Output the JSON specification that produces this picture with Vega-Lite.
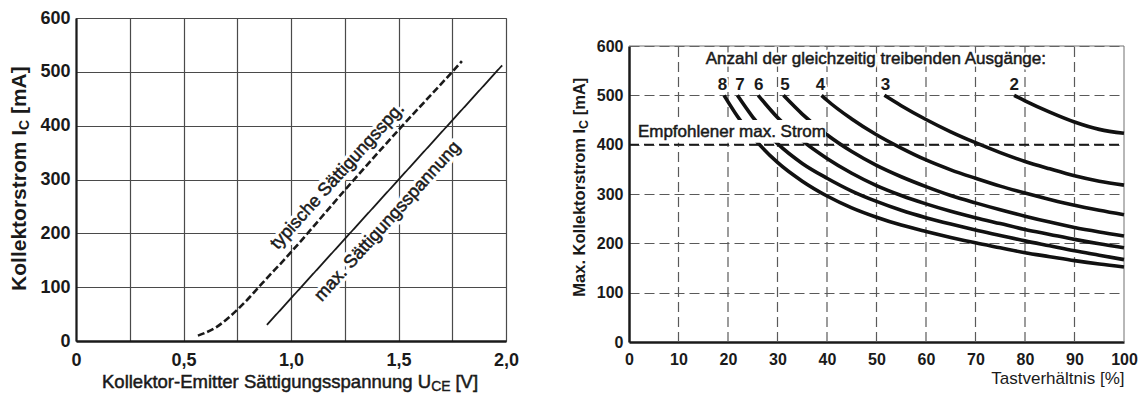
{
  "$schema": "https://vega.github.io/schema/vega-lite/v6.json",
  "padding": {"left": 8, "top": 8, "right": 2, "bottom": 2},
  "background": "white",
  "config": {
    "font": "Liberation Sans",
    "view": {"stroke": "#707070", "strokeWidth": 1},
    "axis": {"ticks": false, "domainColor": "#1a1a1a", "labelColor": "#1a1a1a", "labelFontWeight": "bold", "titleColor": "#1a1a1a", "labelFlush": false, "labelOverlap": false, "labelBound": false},
    "text": {"color": "#1a1a1a"}
  },
  "datasets": {
    "saettigung": [
      {"kurve": "typisch", "u": 0.567, "i": 10},
      {"kurve": "typisch", "u": 0.6, "i": 15},
      {"kurve": "typisch", "u": 0.65, "i": 25},
      {"kurve": "typisch", "u": 0.7, "i": 40},
      {"kurve": "typisch", "u": 0.75, "i": 58},
      {"kurve": "typisch", "u": 0.8, "i": 78},
      {"kurve": "typisch", "u": 0.85, "i": 100},
      {"kurve": "typisch", "u": 0.9, "i": 122},
      {"kurve": "typisch", "u": 0.95, "i": 143},
      {"kurve": "typisch", "u": 1.0, "i": 165},
      {"kurve": "typisch", "u": 1.25, "i": 280},
      {"kurve": "typisch", "u": 1.5, "i": 392},
      {"kurve": "typisch", "u": 1.75, "i": 500},
      {"kurve": "typisch", "u": 1.795, "i": 520},
      {"kurve": "maximal", "u": 0.888, "i": 30},
      {"kurve": "maximal", "u": 1.982, "i": 512}
    ],
    "ausgaenge": [
      {"n": "8", "d": 19.2, "i": 500}, {"n": "8", "d": 22, "i": 456}, {"n": "8", "d": 25, "i": 416}, {"n": "8", "d": 30, "i": 364}, {"n": "8", "d": 35, "i": 326}, {"n": "8", "d": 40, "i": 296}, {"n": "8", "d": 45, "i": 272}, {"n": "8", "d": 50, "i": 253}, {"n": "8", "d": 55, "i": 237}, {"n": "8", "d": 60, "i": 224}, {"n": "8", "d": 65, "i": 212}, {"n": "8", "d": 70, "i": 201}, {"n": "8", "d": 75, "i": 191}, {"n": "8", "d": 80, "i": 181}, {"n": "8", "d": 85, "i": 173}, {"n": "8", "d": 90, "i": 165}, {"n": "8", "d": 95, "i": 158}, {"n": "8", "d": 100, "i": 152},
      {"n": "7", "d": 21.9, "i": 500}, {"n": "7", "d": 25, "i": 456}, {"n": "7", "d": 30, "i": 402}, {"n": "7", "d": 35, "i": 362}, {"n": "7", "d": 40, "i": 332}, {"n": "7", "d": 45, "i": 306}, {"n": "7", "d": 50, "i": 285}, {"n": "7", "d": 55, "i": 267}, {"n": "7", "d": 60, "i": 252}, {"n": "7", "d": 65, "i": 239}, {"n": "7", "d": 70, "i": 227}, {"n": "7", "d": 75, "i": 216}, {"n": "7", "d": 80, "i": 205}, {"n": "7", "d": 85, "i": 195}, {"n": "7", "d": 90, "i": 185}, {"n": "7", "d": 95, "i": 176}, {"n": "7", "d": 100, "i": 167},
      {"n": "6", "d": 26.1, "i": 500}, {"n": "6", "d": 30, "i": 455}, {"n": "6", "d": 35, "i": 408}, {"n": "6", "d": 40, "i": 372}, {"n": "6", "d": 45, "i": 342}, {"n": "6", "d": 50, "i": 317}, {"n": "6", "d": 55, "i": 297}, {"n": "6", "d": 60, "i": 280}, {"n": "6", "d": 65, "i": 265}, {"n": "6", "d": 70, "i": 252}, {"n": "6", "d": 75, "i": 240}, {"n": "6", "d": 80, "i": 228}, {"n": "6", "d": 85, "i": 218}, {"n": "6", "d": 90, "i": 208}, {"n": "6", "d": 95, "i": 199}, {"n": "6", "d": 100, "i": 191},
      {"n": "5", "d": 31.2, "i": 500}, {"n": "5", "d": 35, "i": 462}, {"n": "5", "d": 40, "i": 420}, {"n": "5", "d": 45, "i": 386}, {"n": "5", "d": 50, "i": 358}, {"n": "5", "d": 55, "i": 335}, {"n": "5", "d": 60, "i": 315}, {"n": "5", "d": 65, "i": 297}, {"n": "5", "d": 70, "i": 282}, {"n": "5", "d": 75, "i": 268}, {"n": "5", "d": 80, "i": 255}, {"n": "5", "d": 85, "i": 243}, {"n": "5", "d": 90, "i": 232}, {"n": "5", "d": 95, "i": 223}, {"n": "5", "d": 100, "i": 215},
      {"n": "4", "d": 38.9, "i": 500}, {"n": "4", "d": 40, "i": 490}, {"n": "4", "d": 45, "i": 452}, {"n": "4", "d": 50, "i": 420}, {"n": "4", "d": 55, "i": 393}, {"n": "4", "d": 60, "i": 369}, {"n": "4", "d": 65, "i": 349}, {"n": "4", "d": 70, "i": 332}, {"n": "4", "d": 75, "i": 316}, {"n": "4", "d": 80, "i": 302}, {"n": "4", "d": 85, "i": 289}, {"n": "4", "d": 90, "i": 277}, {"n": "4", "d": 95, "i": 267}, {"n": "4", "d": 100, "i": 258},
      {"n": "3", "d": 51.6, "i": 500}, {"n": "3", "d": 55, "i": 479}, {"n": "3", "d": 60, "i": 451}, {"n": "3", "d": 65, "i": 426}, {"n": "3", "d": 70, "i": 404}, {"n": "3", "d": 75, "i": 384}, {"n": "3", "d": 80, "i": 366}, {"n": "3", "d": 85, "i": 351}, {"n": "3", "d": 90, "i": 337}, {"n": "3", "d": 95, "i": 326}, {"n": "3", "d": 100, "i": 318},
      {"n": "2", "d": 77.8, "i": 500}, {"n": "2", "d": 80, "i": 489}, {"n": "2", "d": 85, "i": 466}, {"n": "2", "d": 90, "i": 446}, {"n": "2", "d": 95, "i": 431}, {"n": "2", "d": 100, "i": 423}
    ],
    "nummern": [
      {"n": "8", "d": 18.9, "i": 521}, {"n": "7", "d": 22.4, "i": 521}, {"n": "6", "d": 26.2, "i": 521}, {"n": "5", "d": 31.5, "i": 521}, {"n": "4", "d": 38.7, "i": 521}, {"n": "3", "d": 51.8, "i": 521}, {"n": "2", "d": 77.8, "i": 521}
    ],
    "raster": [
      {"d": 10, "i": 0, "i2": 600}, {"d": 20, "i": 0, "i2": 600}, {"d": 30, "i": 0, "i2": 600}, {"d": 40, "i": 0, "i2": 600}, {"d": 50, "i": 0, "i2": 600}, {"d": 60, "i": 0, "i2": 600}, {"d": 70, "i": 0, "i2": 600}, {"d": 80, "i": 0, "i2": 600}, {"d": 90, "i": 0, "i2": 600}
    ],
    "kurventext": [
      {"label": "typische Sättigungsspg.", "u": 1.217, "i": 306},
      {"label": "max. Sättigungsspannung", "u": 1.45, "i": 222}
    ],
    "anzahl": [
      {"t": "Anzahl der gleichzeitig treibenden Ausgänge:", "d": 15.5, "i": 573}
    ]
  },
  "spacing": 51,
  "hconcat": [
    {
      "width": 430,
      "height": 323,
      "encoding": {
        "x": {"field": "u", "type": "quantitative", "scale": {"domain": [0, 2], "nice": false},
          "axis": {"values": [0, 0.25, 0.5, 0.75, 1, 1.25, 1.5, 1.75, 2], "labelExpr": "datum.value == 0 ? '0' : (datum.value % 0.5 == 0 ? replace(format(datum.value, '.1f'), '.', ',') : '')", "grid": true, "gridColor": "#4a4a4a", "gridWidth": 1.2, "domainWidth": 2.5, "labelFontSize": 18, "labelPadding": 10, "title": null}},
        "y": {"field": "i", "type": "quantitative", "scale": {"domain": [0, 600], "nice": false},
          "axis": {"values": [0, 100, 200, 300, 400, 500, 600], "grid": true, "gridColor": "#4a4a4a", "gridWidth": 1.2, "domainWidth": 2.2, "labelFontSize": 18, "labelPadding": 6, "title": null}}
      },
      "layer": [
        {
          "data": {"name": "kurventext"},
          "mark": {"type": "text", "angle": 312, "fontSize": 18, "color": "white", "stroke": "white", "strokeWidth": 7, "strokeJoin": "round"},
          "encoding": {"text": {"field": "label"}}
        },
        {
          "data": {"name": "saettigung"},
          "mark": {"type": "line", "interpolate": "monotone", "color": "#1a1a1a"},
          "encoding": {
            "detail": {"field": "kurve"},
            "strokeDash": {"field": "kurve", "type": "nominal", "scale": {"domain": ["typisch", "maximal"], "range": [[7, 3], [1, 0]]}, "legend": null},
            "strokeWidth": {"field": "kurve", "type": "nominal", "scale": {"domain": ["typisch", "maximal"], "range": [2.6, 1.8]}, "legend": null}
          }
        },
        {
          "data": {"name": "kurventext"},
          "mark": {"type": "text", "angle": 312, "fontSize": 18, "stroke": "#1a1a1a", "strokeWidth": 0.5},
          "encoding": {"text": {"field": "label"}}
        },
        {
          "data": {"values": [{"t": "Kollektorstrom I", "u": -0.2605, "i": 93}, {"t": "[mA]", "u": -0.2605, "i": 421.5}]},
          "mark": {"type": "text", "angle": 270, "align": "left", "baseline": "middle", "fontSize": 21, "fontWeight": "bold"},
          "encoding": {"text": {"field": "t"}}
        },
        {
          "data": {"values": [{"t": "C", "u": -0.2605, "i": 392}]},
          "mark": {"type": "text", "angle": 270, "align": "left", "baseline": "middle", "fontSize": 14, "fontWeight": "bold", "dy": 5},
          "encoding": {"text": {"field": "t"}}
        },
        {
          "data": {"values": [{"t": "Kollektor-Emitter Sättigungsspannung U", "u": 0.121, "i": -76.2}, {"t": "[V]", "u": 1.765, "i": -76.2}]},
          "mark": {"type": "text", "align": "left", "baseline": "middle", "fontSize": 18.5, "stroke": "#1a1a1a", "strokeWidth": 0.5},
          "encoding": {"text": {"field": "t"}}
        },
        {
          "data": {"values": [{"t": "CE", "u": 1.652, "i": -76.2}]},
          "mark": {"type": "text", "align": "left", "baseline": "middle", "fontSize": 14, "dy": 5, "stroke": "#1a1a1a", "strokeWidth": 0.4},
          "encoding": {"text": {"field": "t"}}
        }
      ]
    },
    {
      "width": 495,
      "height": 324,
      "view": {"stroke": null},
      "encoding": {
        "x": {"field": "d", "type": "quantitative", "scale": {"domain": [0, 100], "nice": false},
          "axis": {"values": [0, 10, 20, 30, 40, 50, 60, 70, 80, 90, 100], "grid": false, "domainWidth": 2.5, "labelFontSize": 16, "labelPadding": 9, "title": "Tastverhältnis [%]", "titleAnchor": "end", "titleFontSize": 17, "titleFontWeight": "normal", "titlePadding": 3}},
        "y": {"field": "i", "type": "quantitative", "scale": {"domain": [0, 600], "nice": false, "range": [324, 28]},
          "axis": {"values": [0, 100, 200, 300, 400, 500, 600], "grid": true, "gridColor": "#5a5a5a", "gridDash": [10, 5], "gridWidth": 1.2, "domainWidth": 2.5, "labelFontSize": 16, "labelPadding": 6, "title": null}}
      },
      "layer": [
        {
          "data": {"name": "raster"},
          "mark": {"type": "rule", "color": "#5a5a5a", "strokeWidth": 1.2, "strokeDash": [10, 5]},
          "encoding": {"y2": {"field": "i2"}}
        },
        {
          "data": {"values": [{"d": 0, "d2": 100, "i": 600, "i2": 600}, {"d": 100, "d2": 100, "i": 0, "i2": 600}]},
          "mark": {"type": "rule", "color": "#707070", "strokeWidth": 1},
          "encoding": {"x2": {"field": "d2"}, "y2": {"field": "i2"}}
        },
        {
          "data": {"name": "ausgaenge"},
          "mark": {"type": "line", "interpolate": "monotone", "color": "#111111", "strokeWidth": 3.6},
          "encoding": {"detail": {"field": "n"}}
        },
        {
          "data": {"values": [{"d": 1.3, "d2": 39.8, "i": 404, "i2": 450}]},
          "mark": {"type": "rect", "color": "white"},
          "encoding": {"x2": {"field": "d2"}, "y2": {"field": "i2"}}
        },
        {
          "data": {"values": [{"d": 0, "d2": 100, "i": 400}]},
          "mark": {"type": "rule", "strokeDash": [10, 5], "color": "#1a1a1a", "strokeWidth": 1.8},
          "encoding": {"x2": {"field": "d2"}}
        },
        {
          "data": {"name": "anzahl"},
          "mark": {"type": "text", "align": "left", "fontSize": 17, "color": "white", "stroke": "white", "strokeWidth": 5, "strokeJoin": "round"},
          "encoding": {"text": {"field": "t"}}
        },
        {
          "data": {"name": "anzahl"},
          "mark": {"type": "text", "align": "left", "fontSize": 17, "stroke": "#1a1a1a", "strokeWidth": 0.5},
          "encoding": {"text": {"field": "t"}}
        },
        {
          "data": {"name": "nummern"},
          "mark": {"type": "text", "fontSize": 17, "fontWeight": "bold", "color": "white", "stroke": "white", "strokeWidth": 4, "strokeJoin": "round"},
          "encoding": {"text": {"field": "n"}}
        },
        {
          "data": {"name": "nummern"},
          "mark": {"type": "text", "fontSize": 17, "fontWeight": "bold"},
          "encoding": {"text": {"field": "n"}}
        },
        {
          "data": {"values": [{"t": "Empfohlener max. Strom", "d": 1.8, "i": 425}]},
          "mark": {"type": "text", "align": "left", "fontSize": 17, "stroke": "#1a1a1a", "strokeWidth": 0.5},
          "encoding": {"text": {"field": "t"}}
        },
        {
          "data": {"values": [{"t": "Max. Kollektorstrom I", "d": -9.96, "i": 91.8}, {"t": "[mA]", "d": -9.96, "i": 459.6}]},
          "mark": {"type": "text", "angle": 270, "align": "left", "baseline": "middle", "fontSize": 16.5, "fontWeight": "bold"},
          "encoding": {"text": {"field": "t"}}
        },
        {
          "data": {"values": [{"t": "C", "d": -9.96, "i": 432}]},
          "mark": {"type": "text", "angle": 270, "align": "left", "baseline": "middle", "fontSize": 12.5, "fontWeight": "bold", "dy": 4},
          "encoding": {"text": {"field": "t"}}
        }
      ]
    }
  ]
}
